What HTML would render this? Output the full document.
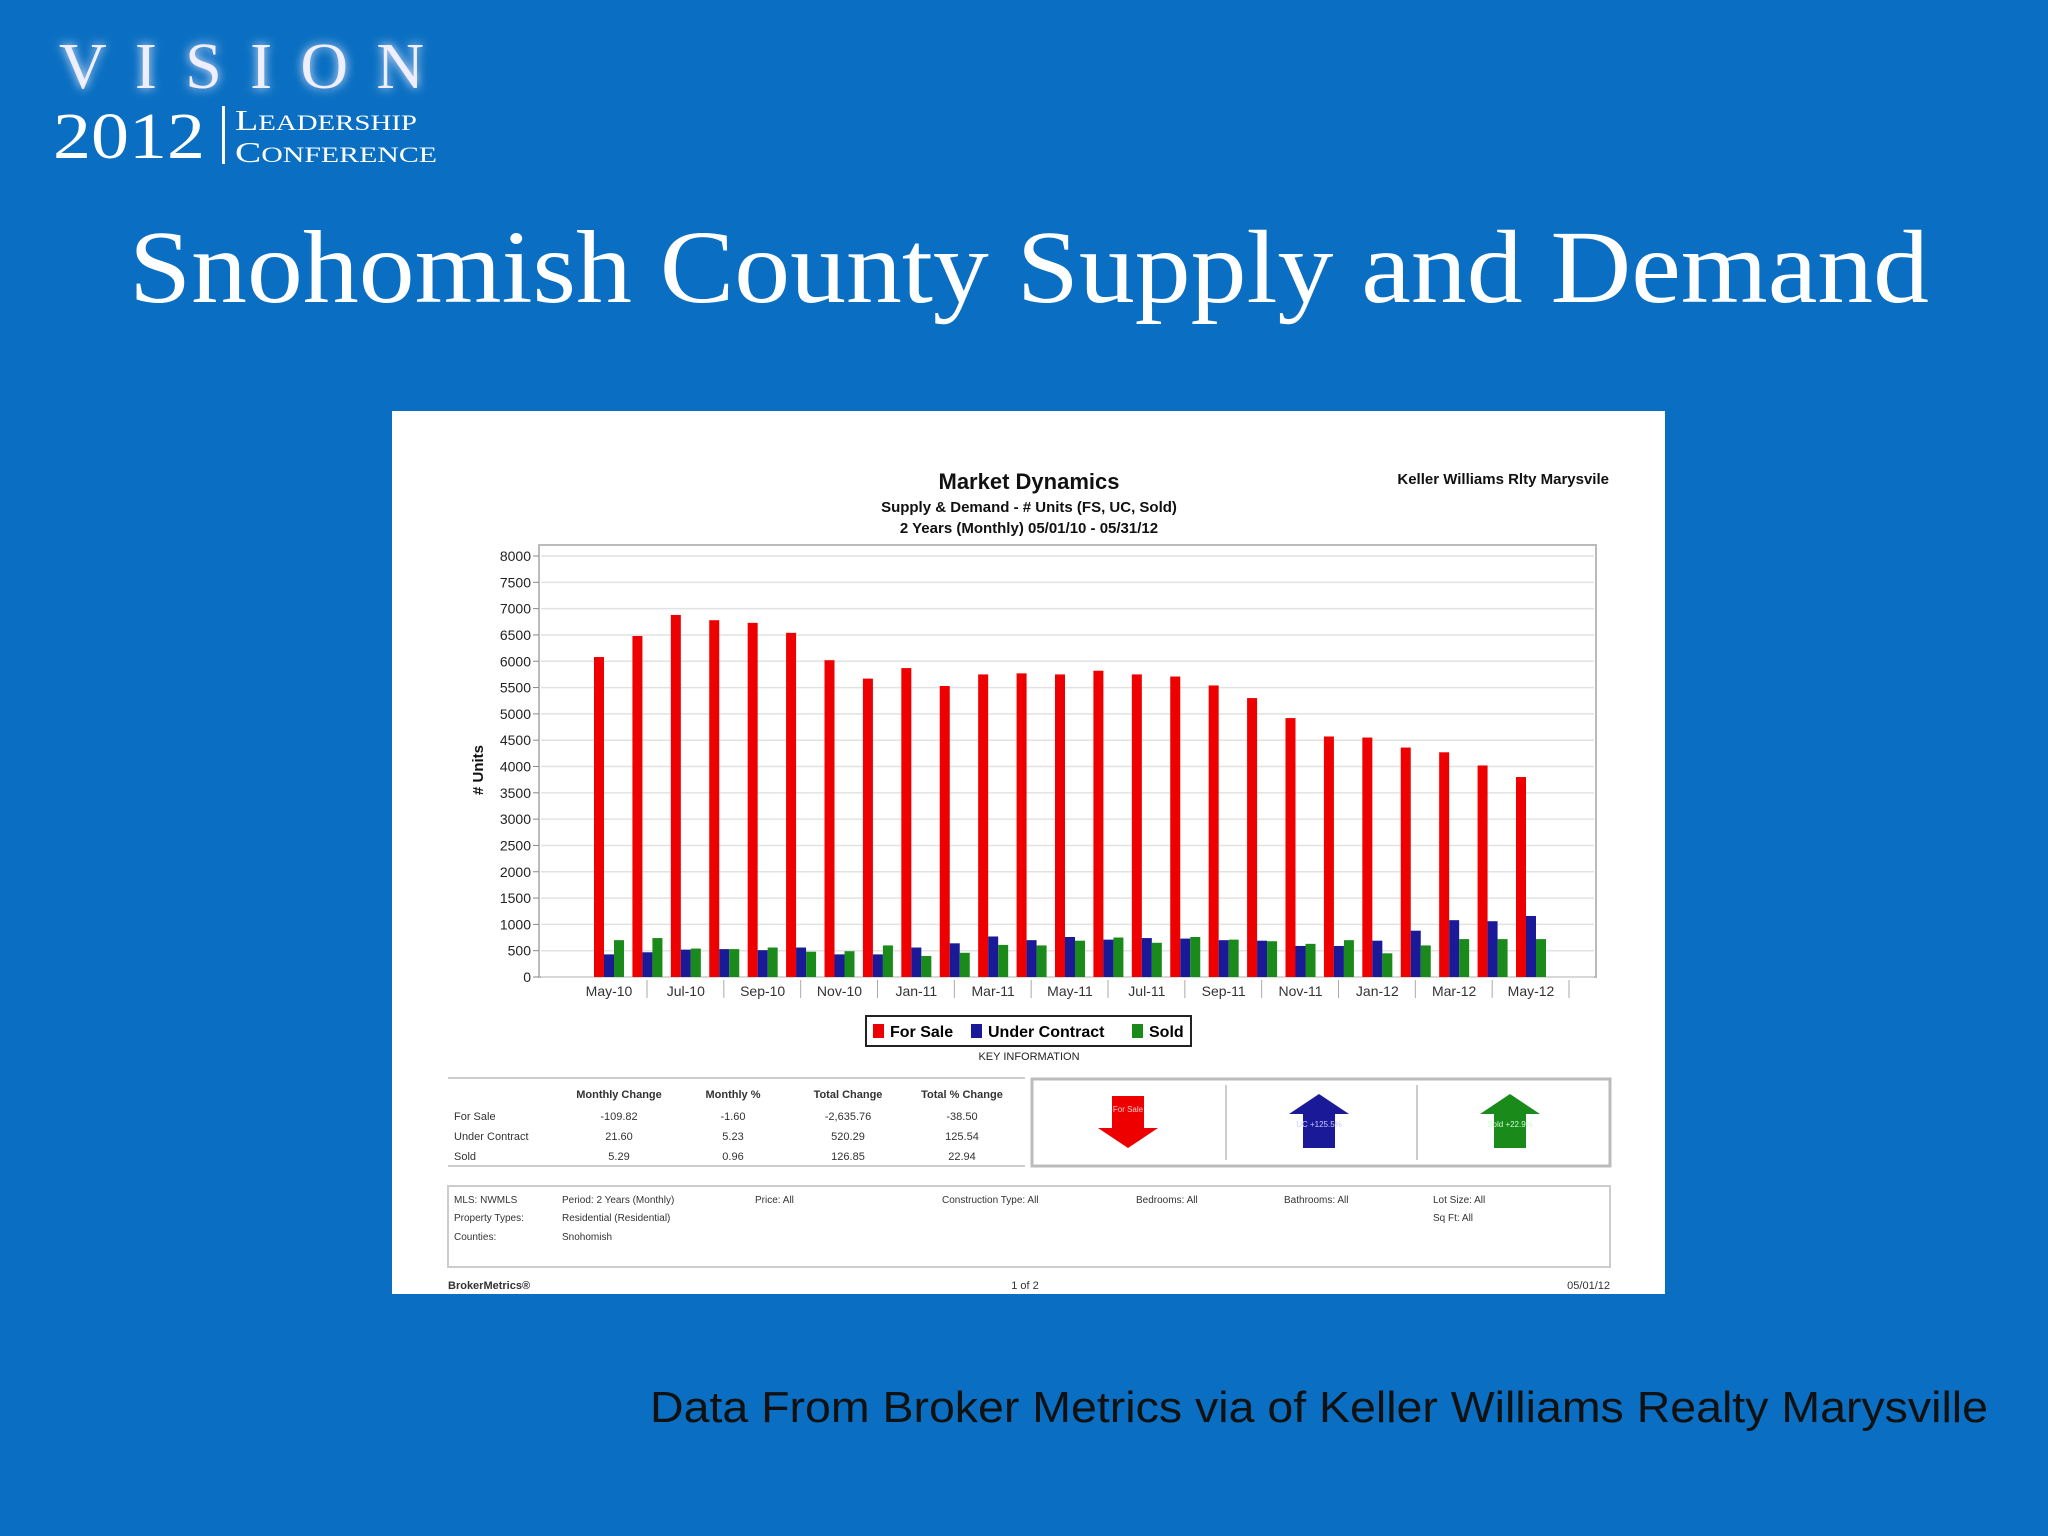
<!DOCTYPE html>
<html><head><meta charset="utf-8"><style>
body{margin:0;background:#0a6fc2;}
svg{display:block}
text{font-family:"Liberation Sans",sans-serif}
</style></head><body>
<svg id="s" width="2048" height="1536" viewBox="0 0 2048 1536">
<defs>
<filter id="glow" x="-20%" y="-50%" width="140%" height="200%"><feGaussianBlur stdDeviation="5" result="b"/><feMerge><feMergeNode in="b"/><feMergeNode in="SourceGraphic"/></feMerge></filter>
</defs>
<rect width="2048" height="1536" fill="#0a6fc2"/>
<g fill="#fff">
<text x="59" y="88" font-size="66" textLength="365" filter="url(#glow)" style="font-family:'Liberation Serif',serif" fill="#eef">VISION</text>
<text x="53" y="158" font-size="66" textLength="152" lengthAdjust="spacingAndGlyphs" style="font-family:'Liberation Serif',serif">2012</text>
<rect x="222" y="106" width="3" height="58" fill="#fff"/>
<text x="235" y="130" font-size="29" textLength="182" lengthAdjust="spacingAndGlyphs" style="font-family:'Liberation Serif',serif">L<tspan font-size="22">EADERSHIP</tspan></text>
<text x="235" y="162" font-size="29" textLength="202" lengthAdjust="spacingAndGlyphs" style="font-family:'Liberation Serif',serif">C<tspan font-size="22">ONFERENCE</tspan></text>
</g>
<text x="1029" y="302" text-anchor="middle" font-size="104" fill="#fff" textLength="1800" lengthAdjust="spacingAndGlyphs" style="font-family:'Liberation Serif',serif">Snohomish County Supply and Demand</text>
<text x="1988" y="1422" text-anchor="end" font-size="44" fill="#111" textLength="1338" lengthAdjust="spacingAndGlyphs">Data From Broker Metrics via of Keller Williams Realty Marysville</text>

<rect x="392" y="411" width="1273" height="883" fill="#fff"/>
<g font-weight="bold" fill="#111" text-anchor="middle">
<text x="1029" y="489" font-size="22">Market Dynamics</text>
<text x="1029" y="512" font-size="15">Supply &amp; Demand - # Units (FS, UC, Sold)</text>
<text x="1029" y="533" font-size="15">2 Years (Monthly) 05/01/10 - 05/31/12</text>
<text x="1609" y="484" font-size="15" text-anchor="end">Keller Williams Rlty Marysvile</text>
</g>
<rect x="539" y="545" width="1057" height="432" fill="#fff" stroke="#bbb" stroke-width="2"/>
<g id="grid"></g><g id="bars"></g><g id="axes"></g>
<text transform="translate(483,770) rotate(-90)" text-anchor="middle" font-size="15" font-weight="bold" fill="#111"># Units</text>

<g>
<rect x="866" y="1016" width="325" height="30" fill="#fff" stroke="#222" stroke-width="2"/>
<rect x="873" y="1024" width="11" height="14" fill="#e00"/><text x="890" y="1037" font-size="16" font-weight="bold">For Sale</text>
<rect x="971" y="1024" width="11" height="14" fill="#1a1a99"/><text x="988" y="1037" font-size="16" font-weight="bold">Under Contract</text>
<rect x="1132" y="1024" width="11" height="14" fill="#1a8a1a"/><text x="1149" y="1037" font-size="16" font-weight="bold">Sold</text>
</g>
<text x="1029" y="1060" text-anchor="middle" font-size="11" fill="#222">KEY INFORMATION</text>

<g font-size="11" fill="#333">
<line x1="448" y1="1078" x2="1025" y2="1078" stroke="#ccc" stroke-width="2"/>
<line x1="448" y1="1166" x2="1025" y2="1166" stroke="#ccc" stroke-width="2"/>
<g text-anchor="middle" font-weight="bold"><text x="619" y="1098">Monthly Change</text><text x="733" y="1098">Monthly %</text><text x="848" y="1098">Total Change</text><text x="962" y="1098">Total % Change</text></g>
<text x="454" y="1120">For Sale</text><text x="454" y="1140">Under Contract</text><text x="454" y="1160">Sold</text>
<g text-anchor="middle">
<text x="619" y="1120">-109.82</text><text x="733" y="1120">-1.60</text><text x="848" y="1120">-2,635.76</text><text x="962" y="1120">-38.50</text>
<text x="619" y="1140">21.60</text><text x="733" y="1140">5.23</text><text x="848" y="1140">520.29</text><text x="962" y="1140">125.54</text>
<text x="619" y="1160">5.29</text><text x="733" y="1160">0.96</text><text x="848" y="1160">126.85</text><text x="962" y="1160">22.94</text>
</g>
</g>
<g>
<rect x="1032" y="1079" width="578" height="87" fill="#fff" stroke="#bbb" stroke-width="3"/>
<line x1="1226" y1="1085" x2="1226" y2="1160" stroke="#999"/><line x1="1417" y1="1085" x2="1417" y2="1160" stroke="#999"/>
<polygon points="1112,1096 1144,1096 1144,1128 1158,1128 1128,1148 1098,1128 1112,1128" fill="#e00"/>
<text x="1128" y="1112" text-anchor="middle" font-size="8" fill="#fcc">For Sale</text>
<polygon points="1319,1094 1349,1114 1335,1114 1335,1148 1303,1148 1303,1114 1289,1114" fill="#1a1a99"/>
<text x="1319" y="1127" text-anchor="middle" font-size="8" fill="#ccf">UC +125.5%</text>
<polygon points="1510,1094 1540,1114 1526,1114 1526,1148 1494,1148 1494,1114 1480,1114" fill="#1a8a1a"/>
<text x="1510" y="1127" text-anchor="middle" font-size="8" fill="#cfc">Sold +22.9%</text>
</g>
<g font-size="10" fill="#333">
<rect x="448" y="1186" width="1162" height="81" fill="#fff" stroke="#ccc" stroke-width="2"/>
<text x="454" y="1203">MLS:  NWMLS</text><text x="562" y="1203">Period:  2 Years (Monthly)</text><text x="755" y="1203">Price:  All</text><text x="942" y="1203">Construction Type:  All</text><text x="1136" y="1203">Bedrooms:  All</text><text x="1284" y="1203">Bathrooms:  All</text><text x="1433" y="1203">Lot Size:  All</text>
<text x="454" y="1221">Property Types:</text><text x="562" y="1221">Residential  (Residential)</text><text x="1433" y="1221">Sq Ft:  All</text>
<text x="454" y="1240">Counties:</text><text x="562" y="1240">Snohomish</text>
</g>
<g font-size="11" fill="#333">
<text x="448" y="1289" font-weight="bold">BrokerMetrics®</text><text x="1025" y="1289" text-anchor="middle">1 of 2</text><text x="1610" y="1289" text-anchor="end">05/01/12</text>
</g>
</svg>
<script>
const categories=["May-10","Jun-10","Jul-10","Aug-10","Sep-10","Oct-10","Nov-10","Dec-10","Jan-11","Feb-11","Mar-11","Apr-11","May-11","Jun-11","Jul-11","Aug-11","Sep-11","Oct-11","Nov-11","Dec-11","Jan-12","Feb-12","Mar-12","Apr-12","May-12"];
const forSale=[6080,6480,6880,6780,6730,6540,6020,5670,5870,5530,5750,5770,5750,5820,5750,5710,5540,5300,4920,4570,4550,4360,4270,4020,3800];
const underContract=[430,470,520,530,510,560,430,430,560,640,770,700,760,710,740,730,700,690,590,590,690,880,1080,1060,1160];
const sold=[700,740,540,530,560,480,490,600,400,460,610,600,690,750,650,760,710,680,630,700,450,600,720,720,720];
const yTicks=[0,500,1000,1500,2000,2500,3000,3500,4000,4500,5000,5500,6000,6500,7000,7500,8000];
const NS="http://www.w3.org/2000/svg";
const y=v=>977-v*(977-556)/8000;
const x=i=>609+i*(1531-609)/(categories.length-1);
function mk(tag,attrs,parent,txt){const e=document.createElementNS(NS,tag);for(const k in attrs)e.setAttribute(k,attrs[k]);if(txt!==undefined)e.textContent=txt;document.getElementById(parent).appendChild(e);return e;}
yTicks.forEach(t=>{
 const g=mk('line',{x1:541,x2:1594,y1:y(t),y2:y(t),stroke:'#e2e2e2','stroke-width':1.5},'grid');
 
 
 const l=mk('text',{x:531,y:y(t)+5,'text-anchor':'end','font-size':14,fill:'#222'},'axes',t);
 
 
 mk('line',{x1:533,x2:539,y1:y(t),y2:y(t),stroke:'#888'},'axes');
});
const series=[[forSale,'#ee0000',-10,'bar-for-sale'],[underContract,'#1a1a99',0,'bar-under-contract'],[sold,'#1a8a1a',10,'bar-sold']];
categories.forEach((c,i)=>{
 series.forEach(([arr,col,off,nm])=>{
  const r=mk('rect',{x:x(i)+off-5,y:y(arr[i]),width:10,height:977-y(arr[i]),fill:col},'bars');
  
  
 });
 if(i%2===0){
  const t=mk('text',{x:x(i),y:996,'text-anchor':'middle','font-size':14,fill:'#333'},'axes',c);
  
  
  mk('line',{x1:x(i)+38,x2:x(i)+38,y1:980,y2:998,stroke:'#aaa'},'axes');
 }
});
</script>
</body></html>
